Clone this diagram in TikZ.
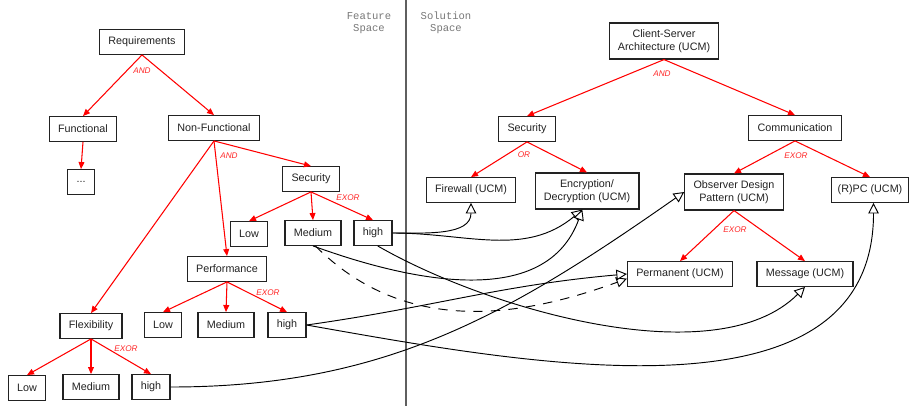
\documentclass[tikz,border=0pt]{standalone}
\usepackage{fontspec}
\setmainfont{Liberation Sans}
\setmonofont{Liberation Mono}
\usetikzlibrary{shapes,arrows.meta}
\definecolor{boxline}{HTML}{222222}
\definecolor{spacegray}{HTML}{777777}
\tikzstyle{box} = [draw=boxline, line width=1pt, text=boxline, inner xsep=7.5pt, inner ysep=3pt, minimum height=7.4mm, font=\fontsize{9.2}{11}\selectfont]
\tikzstyle{box2} = [box, align=center, minimum height=10.8mm]
\tikzstyle{tree} = [draw=red, line width=0.9pt, -{Triangle[length=6pt, width=5pt]}]
\tikzstyle{gate} = [text=red!85, font=\fontsize{7}{8}\selectfont\itshape]
\tikzstyle{link} = [draw, line width=0.8pt, -{Triangle[open, fill=white, length=9pt, width=9pt]}]
\tikzstyle{space} = [text=spacegray, align=center, font=\fontsize{9}{10.2}\selectfont\ttfamily]

\begin{document}
\begin{tikzpicture}[x=0.3mm, y=-0.3mm]
\useasboundingbox (0, 0) rectangle (909, 406);

% feature space / solution space
\coordinate (splittop) at (406, 0);
\coordinate (splitbot) at (406, 406);
\draw [spacegray!80!black, line width=1.5pt] (splittop) -- (splitbot);
\node [space] at (369, 23) (featspace) {Feature\\Space};
\node [space] at (446, 23) (solspace) {Solution\\Space};

% feature tree
\node [box] at (142, 42) (req) {Requirements};
\node [box] at (83, 129) (func) {Functional};
\node [box] at (81, 182) (dots) {...};
\node [box] at (214, 128) (nonfunc) {Non-Functional};
\node [box] at (311, 179) (secF) {Security};
\node [box] at (249, 234) (lowS) {Low};
\node [box] at (313, 233) (medS) {Medium};
\node [box] at (373, 233) (highS) {high};
\node [box] at (227, 269) (perf) {Performance};
\node [box] at (163, 325) (lowP) {Low};
\node [box] at (226, 325) (medP) {Medium};
\node [box] at (287, 325) (highP) {high};
\node [box] at (91, 326) (flex) {Flexibility};
\node [box] at (27, 388) (lowX) {Low};
\node [box] at (91, 387) (medX) {Medium};
\node [box] at (151, 387) (highX) {high};

\path [tree] (req.south) to (func.north);
\path [tree] (req.south) to (nonfunc.north);
\path [tree] (func.south) to (dots.north);
\path [tree] (nonfunc.south) to (secF.north);
\path [tree] (nonfunc.south) to (perf.north);
\path [tree] (nonfunc.south) to (flex.north);
\path [tree] (secF.south) to (lowS.north);
\path [tree] (secF.south) to (medS.north);
\path [tree] (secF.south) to (highS.north);
\path [tree] (perf.south) to (lowP.north);
\path [tree] (perf.south) to (medP.north);
\path [tree] (perf.south) to (highP.north);
\path [tree] (flex.south) to (lowX.north);
\path [tree] (flex.south) to (medX.north);
\path [tree] (flex.south) to (highX.north);

\node [gate] at (142, 71) (andReq) {AND};
\node [gate] at (229, 156) (andNonfunc) {AND};
\node [gate] at (348, 198) (exorSecF) {EXOR};
\node [gate] at (268, 293) (exorPerf) {EXOR};
\node [gate] at (126, 349) (exorFlex) {EXOR};

% solution tree
\node [box2] at (664, 41) (cs) {Client-Server\\Architecture (UCM)};
\node [box] at (527, 129) (secS) {Security};
\node [box] at (795, 128) (comm) {Communication};
\node [box] at (471, 190) (fire) {Firewall (UCM)};
\node [box2] at (587, 191) (enc) {Encryption/\\Decryption (UCM)};
\node [box2] at (734, 192) (obs) {Observer Design\\Pattern (UCM)};
\node [box, inner xsep=5pt] at (870, 190) (rpc) {(R)PC (UCM)};
\node [box] at (680, 274) (perm) {Permanent (UCM)};
\node [box] at (805, 274) (msg) {Message (UCM)};

\path [tree] (cs.south) to (secS.north);
\path [tree] (cs.south) to (comm.north);
\path [tree] (secS.south) to (fire.north);
\path [tree] (secS.south) to (enc.north);
\path [tree] (comm.south) to (obs.north);
\path [tree] (comm.south) to (rpc.north);
\path [tree] (obs.south) to (perm.north);
\path [tree] (obs.south) to (msg.north);

\node [gate] at (662, 74) (andCs) {AND};
\node [gate] at (524, 155) (orSecS) {OR};
\node [gate] at (796, 156) (exorComm) {EXOR};
\node [gate] at (735, 230) (exorObs) {EXOR};

% mapping
\path [link] (highS.east) to [out=0, in=-90] (fire.south);
\path [link] (highS.east) to [out=0, in=-140] ([xshift=-4]enc.south);
\path [link] (medS.south) to [out=-20, in=-110] ([xshift=-4]enc.south);
\path [link, dashed, dash pattern=on 8pt off 7pt] ([xshift=2]medS.south) to [out=-45, in=200] ([yshift=-4]perm.west);
\path [link] ([xshift=4]highS.south) to [out=-30, in=-135, looseness=0.75] (msg.south);
\path [link] (highP.east) to [out=8, in=185] (perm.west);
\path [link] (highP.east) to [out=-10, in=-90] ([xshift=3]rpc.south);
\path [link] (highX.east) to [out=0, in=-145] (obs.west);
\end{tikzpicture}
\end{document}
